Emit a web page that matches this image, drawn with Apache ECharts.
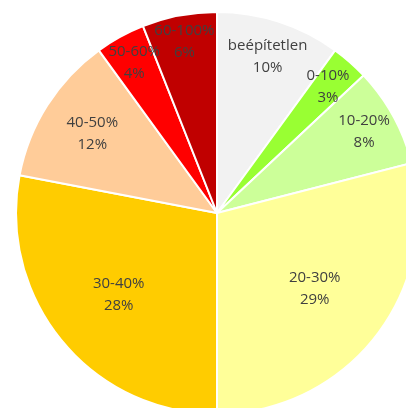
<!DOCTYPE html>
<html>
<head>
<meta charset="utf-8">
<script src="https://cdn.jsdelivr.net/npm/echarts@6/dist/echarts.min.js"></script>
<style>
  html, body { margin: 0; padding: 0; background: #fff; }
  #chart { width: 406px; height: 408px; }
</style>
</head>
<body>
<div id="chart"></div>
<script>
// kategóriák és arányok (%), az óramutató járásával egyező irányban, felülről
const categories = ['beépítetlen', '0-10%', '10-20%', '20-30%', '30-40%', '40-50%', '50-60%', '60-100%']
const shares = [10, 3, 8, 29, 28, 12, 4, 6]
const colors = ['#F2F2F2', '#99FF33', '#CCFF99', '#FFFF99', '#FFCC00', '#FFCC99', '#FF0000', '#C00000']
// label distance from centre, as a fraction of the radius
const labelRadius = [0.80, 0.82, 0.82, 0.60, 0.62, 0.72, 0.84, 0.85]

const R = 201
const total = shares.reduce((a, b) => a + b, 0)
const midAngle = []
let acc = 0
shares.forEach(function(v) {
  midAngle.push((acc + v / 2) / total * 2 * Math.PI)
  acc += v
})

const myChart = echarts.init(document.getElementById('chart'))
const option = {
  animation: false,
  series: [{
    type: 'pie',
    center: [217, 213],
    radius: [0, R],
    startAngle: 90,
    clockwise: true,
    avoidLabelOverlap: false,
    itemStyle: {
      borderColor: '#ffffff',
      borderWidth: 2
    },
    label: {
      show: true,
      position: 'inside',
      formatter: '{b}\n{c}%',
      fontFamily: 'Open Sans',
      fontSize: 15,
      lineHeight: 22,
      color: '#404040'
    },
    labelLine: { show: false },
    labelLayout: function(params) {
      const i = params.dataIndex
      const shift = labelRadius[i] * R - R / 2
      return {
        dx: shift * Math.sin(midAngle[i]),
        dy: -shift * Math.cos(midAngle[i])
      }
    },
    data: categories.map(function(name, i) {
      return { name: name, value: shares[i], itemStyle: { color: colors[i] } }
    })
  }]
}
myChart.setOption(option)
</script>
</body>
</html>
